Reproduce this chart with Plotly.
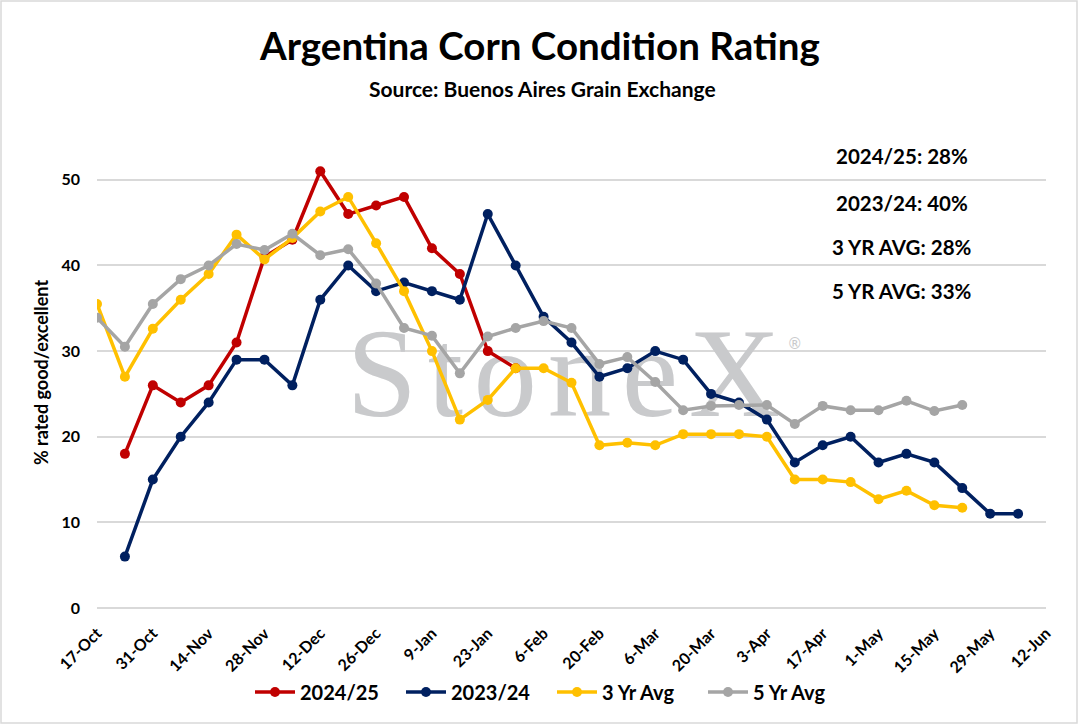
import pandas as pd
import plotly.graph_objects as go

# ---------------- data ----------------
week_start = "2024-10-17"
n_weeks = 34
weeks = pd.date_range(week_start, periods=n_weeks, freq="7D")
tick_dates = pd.date_range("2024-10-17", "2025-06-12", freq="14D")

s2024_25 = [None, 18, 26, 24, 26, 31, 41, 43, 51, 46, 47, 48, 42, 39, 30, 28] + [None] * 18
s2023_24 = [None, 6, 15, 20, 24, 29, 29, 26, 36, 40, 37, 38, 37, 36, 46, 40, 34, 31,
            27, 28, 30, 29, 25, 24, 22, 17, 19, 20, 17, 18, 17, 14, 11, 11]
avg3 = [35.5, 27, 32.6, 36, 39, 43.6, 40.7, 43.2, 46.3, 48, 42.6, 37, 30, 22, 24.3, 28,
        28, 26.3, 19, 19.3, 19, 20.3, 20.3, 20.3, 20, 15, 15, 14.7, 12.7, 13.7, 12, 11.7,
        None, None]
avg5 = [33.9, 30.5, 35.5, 38.4, 40, 42.5, 41.8, 43.7, 41.2, 41.9, 37.9, 32.7, 31.8, 27.4,
        31.7, 32.7, 33.5, 32.7, 28.5, 29.3, 26.4, 23.1, 23.6, 23.7, 23.7, 21.5, 23.6, 23.1,
        23.1, 24.2, 23.0, 23.7, None, None]

series_names = ["2024/25", "2023/24", "3 Yr Avg", "5 Yr Avg"]
series_values = [s2024_25, s2023_24, avg3, avg5]
series_colors = ["#C00000", "#002060", "#FFC000", "#A5A5A5"]

side_labels = ["2024/25: 28%", "2023/24: 40%", "3 YR AVG: 28%", "5 YR AVG: 33%"]

# ---------------- layout geometry ----------------
W, H = 1079, 725
ML, MR, MT, MB = 97, 33, 137, 117
PW, PH = W - ML - MR, H - MT - MB


def px_x(px):
    return (px - ML) / PW


def px_y(py):
    return (H - MB - py) / PH


FONT = "Lato"
HS = "\u200a"  # hair space used to widen the watermark lettering

fig = go.Figure()

# watermark (drawn first so it sits beneath the lines)
fig.add_trace(go.Scatter(
    x=[pd.Timestamp("2025-02-11")], y=[26.1], mode="text",
    text=[HS.join("StoneX")],
    textfont=dict(family="Liberation Serif", size=127, color="#C9CACC"),
    textposition="middle center", showlegend=False, hoverinfo="skip"))
fig.add_trace(go.Scatter(
    x=[pd.Timestamp("2025-04-10")], y=[30.7], mode="text", text=["®"],
    textfont=dict(family="DejaVu Sans", size=15, color="#C9CACC"),
    textposition="middle center", showlegend=False, hoverinfo="skip"))

for name, vals, col in zip(series_names, series_values, series_colors):
    fig.add_trace(go.Scatter(
        x=weeks, y=vals, name=name, mode="lines+markers",
        line=dict(color=col, width=3.5),
        marker=dict(color=col, size=10),
        connectgaps=False))

annotations = [
    dict(text="<b>Argentina Corn Condition Rating</b>", x=px_x(539.5), y=px_y(45),
         xref="paper", yref="paper", showarrow=False, xanchor="center", yanchor="middle",
         font=dict(family=FONT, size=38.5, color="black")),
    dict(text="<b>Source: Buenos Aires Grain Exchange</b>", x=px_x(542), y=px_y(88),
         xref="paper", yref="paper", showarrow=False, xanchor="center", yanchor="middle",
         font=dict(family=FONT, size=21, color="black")),
]
for lab, py in zip(side_labels, [156, 202.5, 247, 291]):
    annotations.append(dict(text="<b>" + lab + "</b>", x=px_x(902), y=px_y(py),
                            xref="paper", yref="paper", showarrow=False,
                            xanchor="center", yanchor="middle",
                            font=dict(family=FONT, size=20.5, color="black")))

fig.update_layout(
    width=W, height=H,
    margin=dict(l=ML, r=MR, t=MT, b=MB),
    paper_bgcolor="white", plot_bgcolor="white",
    font=dict(family=FONT, color="black"),
    xaxis=dict(type="date", range=["2024-10-17", "2025-06-12"],
               tickvals=tick_dates, tickformat="%-d-%b", tickangle=-45,
               tickfont=dict(family=FONT, size=16, color="black", weight="bold"),
               showgrid=False, zeroline=False, showline=False, ticks="",
               ticklabelstandoff=12, fixedrange=True),
    yaxis=dict(range=[0, 55], tick0=0, dtick=10,
               tickfont=dict(family=FONT, size=16, color="black", weight="bold"),
               showgrid=True, gridcolor="#D9D9D9", gridwidth=1.5,
               zeroline=True, zerolinecolor="#D9D9D9", zerolinewidth=1.5,
               showline=False, ticks="", ticklabelstandoff=16,
               title=dict(text="<b>% rated good/excellent</b>",
                          font=dict(family=FONT, size=18, color="black"), standoff=8)),
    legend=dict(orientation="h", x=px_x(250), y=px_y(692), xanchor="left", yanchor="middle",
                font=dict(family=FONT, size=20, color="black", weight="bold"),
                entrywidth=96, entrywidthmode="pixels", itemwidth=40,
                bgcolor="rgba(0,0,0,0)"),
    annotations=annotations,
    shapes=[dict(type="rect", xref="paper", yref="paper",
                 x0=px_x(1), x1=px_x(W - 2), y0=px_y(H - 2), y1=px_y(1),
                 line=dict(color="#D9D9D9", width=1.5), fillcolor="rgba(0,0,0,0)",
                 layer="below")],
    showlegend=True,
)

fig.write_html("out.html", config={"displayModeBar": False},
               post_script="document.body.style.margin='0px';")
